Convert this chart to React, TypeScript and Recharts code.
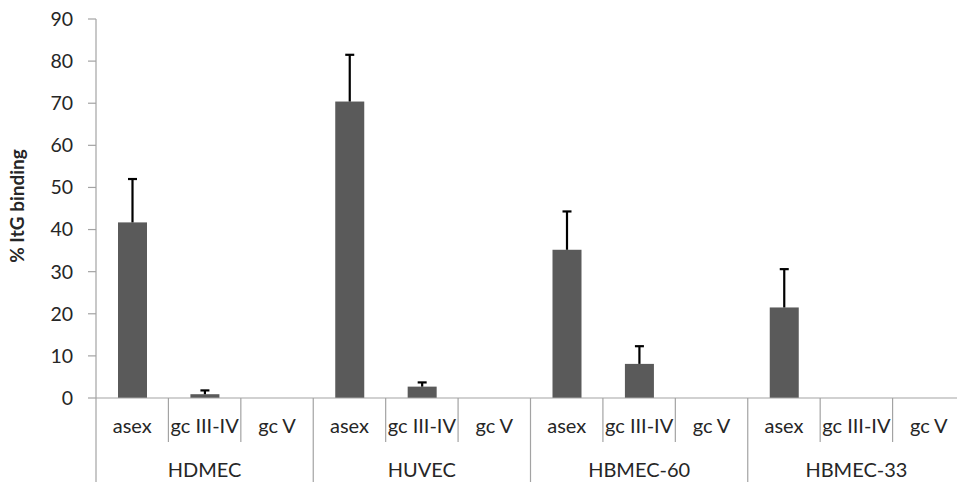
import { BarChart, Bar, XAxis, YAxis, Label } from "recharts";

const groups = ["HDMEC", "HUVEC", "HBMEC-60", "HBMEC-33"];
const stages = ["asex", "gc III-IV", "gc V"];
const binding = [41.7, 0.9, 0, 70.4, 2.7, 0, 35.2, 8.1, 0, 21.5, 0, 0];
const errorUp = [10.3, 0.9, 0, 11.1, 1.0, 0, 9.1, 4.2, 0, 9.1, 0, 0];
const yTicks = [0, 10, 20, 30, 40, 50, 60, 70, 80, 90];

const data = groups.flatMap((g, gi) =>
    stages.map((s, si) => {
        const i = gi * stages.length + si;
        return { key: `${g}|${s}`, value: binding[i], err: errorUp[i] };
    })
);

const FONT = "Lato, 'Noto Sans', sans-serif";
const AXIS = "#a3a3a3";
const TEXT = "#262626";
const CHART_W = 980;
const MARGIN = { top: 19, right: 15, bottom: 0, left: 0 };
const Y_W = 96;
const PLOT_W = CHART_W - MARGIN.left - MARGIN.right - Y_W;

function CategoryTick({ x, y, payload, index }: any) {
    const slot = PLOT_W / data.length;
    const [group, stage] = String(payload.value).split("|");
    const left = x - slot / 2;
    const groupStart = index % stages.length === 0;
    return (
        <g>
            <line x1={left} y1={y} x2={left} y2={groupStart ? y + 90 : y + 44} stroke={AXIS} strokeWidth={1.2} />
            <text x={x} y={y + 35} textAnchor="middle" fill={TEXT} fontSize={20} fontFamily={FONT}>
                {stage}
            </text>
            {index % stages.length === 1 && (
                <text x={x} y={y + 79} textAnchor="middle" fill={TEXT} fontSize={20} fontFamily={FONT}>
                    {group}
                </text>
            )}
        </g>
    );
}

// bar + upper-only error whisker (Excel style, no lower cap)
function BarWithError(props: any) {
    const { x, y, width, height, fill, payload } = props;
    if (!payload || !(payload.value > 0)) return null;
    const pxPerUnit = height / payload.value;
    const cx = x + width / 2;
    const top = y - payload.err * pxPerUnit;
    return (
        <g>
            <rect x={x} y={y} width={width} height={height} fill={fill} />
            {payload.err > 0 && (
                <g stroke="#000" strokeWidth={2.2}>
                    <line x1={cx} y1={y} x2={cx} y2={top} />
                    <line x1={cx - 4.5} y1={top} x2={cx + 4.5} y2={top} />
                </g>
            )}
        </g>
    );
}

export default function App() {
    return (
        <div style={{ position: "absolute", left: 0, top: 0, width: 957, height: 482, overflow: "hidden", background: "#fff" }}>
            <BarChart width={CHART_W} height={482} data={data} margin={MARGIN} barSize={29}>
                <XAxis
                    dataKey="key"
                    height={84}
                    interval={0}
                    tickLine={false}
                    tickSize={0}
                    tickMargin={0}
                    axisLine={{ stroke: AXIS, strokeWidth: 1.2 }}
                    tick={<CategoryTick />}
                />
                <YAxis
                    width={Y_W}
                    domain={[0, 90]}
                    ticks={yTicks}
                    interval={0}
                    tickSize={8}
                    tickMargin={15}
                    axisLine={{ stroke: AXIS, strokeWidth: 1.2 }}
                    tickLine={{ stroke: AXIS, strokeWidth: 1.2 }}
                    tick={{ fill: TEXT, fontSize: 19.5, fontFamily: FONT }}
                >
                    <Label
                        content={() => (
                            <text
                                x={24}
                                y={206}
                                transform="rotate(-90 24 206)"
                                textAnchor="middle"
                                fill={TEXT}
                                fontSize={19}
                                fontWeight="bold"
                                fontFamily={FONT}
                            >
                                % ItG binding
                            </text>
                        )}
                    />
                </YAxis>
                <Bar dataKey="value" fill="#5a5a5a" isAnimationActive={false} shape={<BarWithError />} />
            </BarChart>
        </div>
    );
}
